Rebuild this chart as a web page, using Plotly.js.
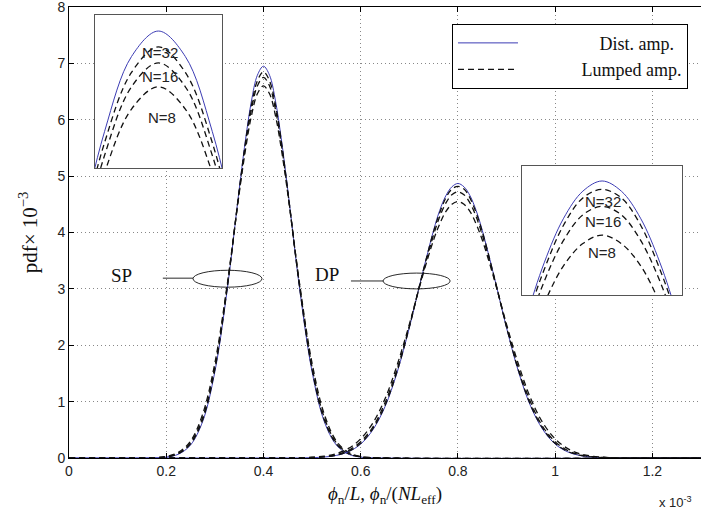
<!DOCTYPE html>
<html>
<head>
<meta charset="utf-8">
<script src="https://cdn.plot.ly/plotly-3.0.1.min.js"></script>
<style>html,body{margin:0;padding:0;background:#fff;}#chart{width:724px;height:520px;}</style>
</head>
<body>
<div id="chart"></div>
<script>
// ---- data (pdf x 10^-3 vs phi x 10^-3) ----
var spX = [0, 0.175, 0.2, 0.225, 0.25, 0.275, 0.3, 0.325, 0.35, 0.3625, 0.375, 0.3875, 0.4,
           0.4125, 0.425, 0.4375, 0.45, 0.475, 0.5, 0.525, 0.55, 0.575, 0.6, 0.625, 1.3];
var spDist = [0, 0.003, 0.016, 0.067, 0.23, 0.65, 1.53, 2.96, 4.76, 5.61, 6.32, 6.79, 6.95,
              6.79, 6.32, 5.61, 4.76, 2.96, 1.53, 0.65, 0.23, 0.067, 0.016, 0.003, 0];
var spN32 = [0, 0.004, 0.019, 0.075, 0.25, 0.68, 1.57, 2.99, 4.74, 5.57, 6.25, 6.69, 6.85,
             6.69, 6.25, 5.57, 4.74, 2.99, 1.57, 0.68, 0.25, 0.075, 0.019, 0.004, 0];
var spN16 = [0, 0.005, 0.022, 0.084, 0.27, 0.72, 1.61, 3.02, 4.72, 5.52, 6.17, 6.60, 6.75,
             6.60, 6.17, 5.52, 4.72, 3.02, 1.61, 0.72, 0.27, 0.084, 0.022, 0.005, 0];
var spN8 = [0, 0.006, 0.027, 0.099, 0.30, 0.78, 1.68, 3.05, 4.69, 5.44, 6.06, 6.46, 6.60,
            6.46, 6.06, 5.44, 4.69, 3.05, 1.68, 0.78, 0.30, 0.099, 0.027, 0.006, 0];

var dpX = [0, 0.45, 0.475, 0.5, 0.525, 0.55, 0.575, 0.6, 0.625, 0.65, 0.675, 0.7, 0.725, 0.75,
           0.7625, 0.775, 0.7875, 0.8, 0.8125, 0.825, 0.8375, 0.85, 0.875, 0.9, 0.925, 0.95,
           0.975, 1.0, 1.025, 1.05, 1.075, 1.1, 1.125, 1.15, 1.3];
var dpDist = [0, 0.001, 0.002, 0.006, 0.017, 0.046, 0.112, 0.247, 0.50, 0.91, 1.52, 2.31, 3.20, 4.04,
              4.39, 4.65, 4.81, 4.87, 4.81, 4.65, 4.39, 4.04, 3.20, 2.31, 1.52, 0.91,
              0.50, 0.247, 0.112, 0.046, 0.017, 0.006, 0.002, 0.001, 0];
var dpN32 = [0, 0.001, 0.002, 0.007, 0.019, 0.050, 0.12, 0.26, 0.52, 0.93, 1.54, 2.32, 3.20, 4.02,
             4.35, 4.61, 4.77, 4.82, 4.77, 4.61, 4.35, 4.02, 3.20, 2.32, 1.54, 0.93,
             0.52, 0.26, 0.12, 0.050, 0.019, 0.007, 0.002, 0.001, 0];
var dpN16 = [0, 0.001, 0.003, 0.009, 0.024, 0.059, 0.136, 0.29, 0.55, 0.98, 1.58, 2.34, 3.18, 3.96,
             4.28, 4.52, 4.67, 4.72, 4.67, 4.52, 4.28, 3.96, 3.18, 2.34, 1.58, 0.98,
             0.55, 0.29, 0.136, 0.059, 0.024, 0.009, 0.003, 0.001, 0];
var dpN8 = [0, 0.002, 0.005, 0.013, 0.033, 0.078, 0.17, 0.34, 0.62, 1.05, 1.65, 2.37, 3.16, 3.87,
            4.15, 4.37, 4.50, 4.55, 4.50, 4.37, 4.15, 3.87, 3.16, 2.37, 1.65, 1.05,
            0.62, 0.34, 0.17, 0.078, 0.033, 0.013, 0.005, 0.002, 0];

var xTicks = [0, 0.2, 0.4, 0.6, 0.8, 1, 1.2];
var xTickText = ['0', '0.2', '0.4', '0.6', '0.8', '1', '1.2'];
var yTicks = [0, 1, 2, 3, 4, 5, 6, 7, 8];
var seriesNames = ['Dist. amp.', 'Lumped amp.'];
var nLabels = ['N=32', 'N=16', 'N=8'];

// ---- styles ----
var BLUE = '#3c3cb4';
var distLine = {color: BLUE, width: 1, shape: 'spline', smoothing: 1};
var lumpLine = {color: '#111', width: 1.3, dash: '6px,4px', shape: 'spline', smoothing: 1};
var NB = '\u00a0';
function pad(n) { return new Array(n + 1).join(NB); }

var traces = [];
function addSet(xa, ya, xs, ysList, legend) {
  ysList.forEach(function (ys, i) {
    var isDist = (i === 0);
    traces.push({
      x: xs, y: ys, xaxis: xa, yaxis: ya, type: 'scatter', mode: 'lines',
      line: isDist ? distLine : lumpLine,
      name: isDist ? pad(17) + seriesNames[0] : pad(13) + seriesNames[1],
      legendgroup: isDist ? 'd' : 'l',
      showlegend: legend && (i === 0 || i === 1),
      hoverinfo: 'skip'
    });
  });
}
addSet('x', 'y', spX, [spDist, spN32, spN16, spN8], true);
addSet('x', 'y', dpX, [dpDist, dpN32, dpN16, dpN8], false);
addSet('x2', 'y2', spX, [spDist, spN32, spN16, spN8], false);
addSet('x3', 'y3', dpX, [dpDist, dpN32, dpN16, dpN8], false);

var sans = 'Liberation Sans, Arial, sans-serif';
var tickFont = {family: sans, size: 14, color: '#222'};
var serif = 'Liberation Serif, Times New Roman, serif';

var insetAxis = {showgrid: false, zeroline: false, showticklabels: false, ticks: '',
                 showline: true, mirror: true, linecolor: '#555', linewidth: 1};

function nAnn(text, x, y) {
  return {text: text, xref: 'paper', yref: 'paper', x: x, y: y, xanchor: 'center', yanchor: 'middle',
          showarrow: false, font: {family: sans, size: 15, color: '#222'}};
}

var layout = {
  width: 724, height: 520,
  margin: {l: 69, r: 23, t: 7, b: 62},
  paper_bgcolor: '#fff', plot_bgcolor: '#fff',
  showlegend: true,
  xaxis: {
    range: [0, 1.3], tickvals: xTicks, ticktext: xTickText,
    ticks: 'inside', ticklen: 5, tickcolor: '#000', tickfont: tickFont,
    showline: true, mirror: 'allticks', linecolor: '#000', linewidth: 1,
    showgrid: true, gridcolor: '#888', griddash: '1px,3px', gridwidth: 1, zeroline: false,
    ticklabeloverflow: 'allow',
    title: {text: '<i>ϕ</i><sub>n</sub>/<i>L</i>, <i>ϕ</i><sub>n</sub>/(<i>NL</i><sub>eff</sub>)',
            font: {family: serif, size: 19, color: '#111'}, standoff: 8}
  },
  yaxis: {
    range: [0, 8.0001], tickvals: yTicks,
    ticks: 'inside', ticklen: 5, tickcolor: '#000', tickfont: tickFont,
    showline: true, mirror: false, linecolor: '#000', linewidth: 1,
    showgrid: true, gridcolor: '#888', griddash: '1px,3px', gridwidth: 1, zeroline: false,
    ticklabeloverflow: 'allow',
    title: {text: 'pdf× 10<sup>−3</sup>', font: {family: serif, size: 21, color: '#111'}, standoff: 14}
  },
  xaxis2: Object.assign({domain: [0.041, 0.242], range: [0.3705, 0.4295], anchor: 'y2'}, insetAxis),
  yaxis2: Object.assign({domain: [0.643, 0.982], range: [6.09, 7.05], anchor: 'x2'}, insetAxis),
  xaxis3: Object.assign({domain: [0.717, 0.970], range: [0.748, 0.852], anchor: 'y3'}, insetAxis),
  yaxis3: Object.assign({domain: [0.361, 0.648], range: [4.195, 4.96], anchor: 'x3'}, insetAxis),
  legend: {
    x: 0.606, y: 0.963, xanchor: 'left', yanchor: 'top',
    bgcolor: '#fff', bordercolor: '#000', borderwidth: 1,
    font: {family: serif, size: 18, color: '#111'},
    itemwidth: 60, tracegroupgap: 0
  },
  shapes: [
    // white backgrounds for the insets (between grid and traces)
    {type: 'rect', xref: 'x', yref: 'y', x0: 0.0535, x1: 0.315, y0: 5.14, y1: 7.85,
     fillcolor: '#fff', line: {width: 0}, layer: 'between'},
    {type: 'rect', xref: 'x', yref: 'y', x0: 0.932, x1: 1.261, y0: 2.89, y1: 5.18,
     fillcolor: '#fff', line: {width: 0}, layer: 'between'},
    // SP / DP ellipses and leaders
    {type: 'circle', xref: 'x', yref: 'y', x0: 0.255, x1: 0.397, y0: 3.03, y1: 3.33,
     line: {color: '#111', width: 0.9}},
    {type: 'line', xref: 'x', yref: 'y', x0: 0.193, x1: 0.255, y0: 3.19, y1: 3.19,
     line: {color: '#111', width: 0.9}},
    {type: 'circle', xref: 'x', yref: 'y', x0: 0.646, x1: 0.784, y0: 3.0, y1: 3.28,
     line: {color: '#111', width: 0.9}},
    {type: 'line', xref: 'x', yref: 'y', x0: 0.58, x1: 0.646, y0: 3.14, y1: 3.14,
     line: {color: '#111', width: 0.9}}
  ],
  annotations: [
    {text: 'SP', xref: 'x', yref: 'y', x: 0.109, y: 3.24, xanchor: 'center', yanchor: 'middle',
     showarrow: false, font: {family: serif, size: 19, color: '#111'}},
    {text: 'DP', xref: 'x', yref: 'y', x: 0.531, y: 3.26, xanchor: 'center', yanchor: 'middle',
     showarrow: false, font: {family: serif, size: 19, color: '#111'}},
    {text: 'x 10<sup>-3</sup>', xref: 'paper', yref: 'paper', x: 0.930, y: -0.098,
     xanchor: 'left', yanchor: 'middle',
     showarrow: false, font: {family: sans, size: 13, color: '#222'}},
    nAnn(nLabels[0], 0.144, 0.900),
    nAnn(nLabels[1], 0.144, 0.845),
    nAnn(nLabels[2], 0.147, 0.754),
    nAnn(nLabels[0], 0.845, 0.568),
    nAnn(nLabels[1], 0.845, 0.525),
    nAnn(nLabels[2], 0.843, 0.455)
  ]
};

Plotly.newPlot('chart', traces, layout, {staticPlot: true, displayModeBar: false});
</script>
</body>
</html>
